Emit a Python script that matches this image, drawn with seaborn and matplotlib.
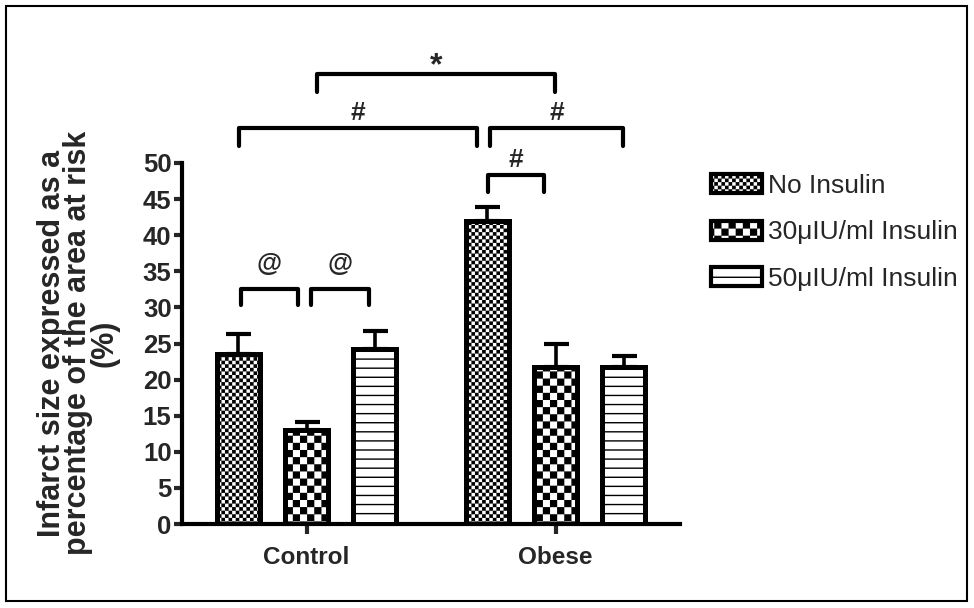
import numpy as np
import pandas as pd
import matplotlib
matplotlib.use("Agg")
import matplotlib.pyplot as plt
import matplotlib.patches as mpatches
from matplotlib import hatch as mhatch
from matplotlib.path import Path
import seaborn as sns

# ---------------- data ----------------
groups = ["Control", "Obese"]
treatments = ["No Insulin", "30\u03bcIU/ml Insulin", "50\u03bcIU/ml Insulin"]
control_mean = [23.6, 13.0, 24.2]
control_sem = [2.7, 1.1, 2.6]
obese_mean = [41.9, 21.8, 21.8]
obese_sem = [2.0, 3.1, 1.4]
y_ticks = [0, 5, 10, 15, 20, 25, 30, 35, 40, 45, 50]
y_label = "Infarct size expressed as a\npercentage of the area at risk\n(%)"

# significance brackets: (x_left, x_right, y_top, y_leg_end, symbol)
brackets = [
    (-0.265, -0.036, 32.5, 30.4, "@"),
    (0.020, 0.249, 32.5, 30.4, "@"),
    (0.727, 0.952, 48.4, 46.0, "#"),
    (-0.273, 0.683, 54.8, 52.3, "#"),
    (0.735, 1.273, 54.8, 52.3, "#"),
    (0.044, 0.996, 62.3, 59.9, "*"),
]
symbol_offset = {"@": 2.6, "#": 1.1, "*": 0.0}
symbol_size = {"@": 18.5, "#": 19, "*": 23}

# ---------------- custom hatch patterns ----------------
class CustomHatch(mhatch.HatchPatternBase):
    def __init__(self, hatch, density):
        self.n_check = 0
        self.n_lines = 0
        if "c" in hatch:
            self.n_check = 28
        elif "C" in hatch:
            self.n_check = 14
        if "h" in hatch:
            self.n_lines = 11
        self.squares = []
        if self.n_check:
            n = self.n_check
            for i in range(n):
                for j in range(n):
                    if (i + j) % 2 == 0:
                        self.squares.append((i, j))
        self.num_vertices = len(self.squares) * 5 + self.n_lines * 2

    def set_vertices_and_codes(self, vertices, codes):
        k = 0
        if self.n_check:
            n = self.n_check
            s = 1.0 / n
            sh = 0.0065
            for (i, j) in self.squares:
                x0, y0 = i * s + sh, j * s + sh
                x1, y1 = (i + 1) * s - sh, (j + 1) * s - sh
                vertices[k:k + 5] = [(x0, y0), (x1, y0), (x1, y1), (x0, y1), (x0, y0)]
                codes[k] = Path.MOVETO
                codes[k + 1:k + 4] = Path.LINETO
                codes[k + 4] = Path.CLOSEPOLY
                k += 5
        if self.n_lines:
            steps = (np.arange(self.n_lines) + 0.5) / self.n_lines
            for y in steps:
                vertices[k] = (0.0, y)
                vertices[k + 1] = (1.0, y)
                codes[k] = Path.MOVETO
                codes[k + 1] = Path.LINETO
                k += 2

mhatch._hatch_types.append(CustomHatch)
mhatch._validate_hatch_pattern = lambda h: None
hatches = ["c", "C", "h"]

# ---------------- style ----------------
sns.set_style("white")
plt.rcParams["font.family"] = ["Liberation Sans", "DejaVu Sans"]
plt.rcParams["hatch.linewidth"] = 1.0
plt.rcParams["hatch.color"] = "black"

df = pd.DataFrame({
    "group": [g for g in groups for _ in treatments],
    "treatment": treatments * len(groups),
    "value": control_mean + obese_mean,
    "sem": control_sem + obese_sem,
})

fig = plt.figure(figsize=(9.74, 6.08), dpi=100)
ax = fig.add_axes([182 / 974, 1 - 524 / 608, (680 - 182) / 974, (524 - 163) / 608])

sns.barplot(data=df, x="group", y="value", hue="treatment", order=groups,
            hue_order=treatments, palette=["white"] * 3, edgecolor="black",
            linewidth=3.6, width=0.82, gap=0.37, errorbar=None, legend=False,
            ax=ax, zorder=3)

for cont, h in zip(ax.containers, hatches):
    for p in cont.patches:
        p.set_hatch(h)
        p.set_edgecolor("black")

# error bars (upper only) from the bar positions
for cont, t in zip(ax.containers, treatments):
    sub = df[df["treatment"] == t].set_index("group").loc[groups]
    xs = [p.get_x() + p.get_width() / 2 for p in cont.patches]
    ax.errorbar(xs, sub["value"].values,
                yerr=[np.zeros(len(xs)), sub["sem"].values],
                fmt="none", ecolor="black", elinewidth=2.6, capsize=9,
                capthick=3, zorder=2)

ax.set_xlim(-0.5, 1.5)
ax.set_ylim(0, 50)
ax.set_yticks(y_ticks)
ax.set_yticklabels([str(v) for v in y_ticks], fontsize=18.5, fontweight="bold")
ax.set_xticks(range(len(groups)))
ax.set_xticklabels(groups, fontsize=17.5, fontweight="bold")
ax.set_xlabel("")
ax.set_ylabel("")
for s in ["top", "right"]:
    ax.spines[s].set_visible(False)
for s in ["left", "bottom"]:
    ax.spines[s].set_linewidth(3)
    ax.spines[s].set_color("black")
ax.tick_params(axis="y", direction="out", length=6, width=3, pad=1.5, left=True)
ax.tick_params(axis="x", direction="out", length=7, width=3, pad=9, bottom=True)

# brackets
for xl, xr, yt, yb, sym in brackets:
    ax.plot([xl, xl, xr, xr], [yb, yt, yt, yb], color="black", lw=3,
            solid_capstyle="round", solid_joinstyle="round", clip_on=False)
    ax.text((xl + xr) / 2, yt + symbol_offset[sym], sym, ha="center",
            va="baseline", fontsize=symbol_size[sym], fontweight="bold",
            clip_on=False)

# y label
fig.text(78 / 974, 1 - 343 / 608, y_label, rotation=90, ha="center",
         va="center", multialignment="center", fontsize=22,
         fontweight="bold", linespacing=0.84)

# legend
handles = [mpatches.Patch(facecolor="white", edgecolor="black", hatch=h,
                          linewidth=3, label=t)
           for h, t in zip(hatches, treatments)]
fig.legend(handles=handles, loc="upper left",
           bbox_to_anchor=(711 / 974, 1 - 174 / 608), frameon=False,
           fontsize=19, handlelength=1.95, handleheight=0.75,
           handletextpad=0.2, labelspacing=0.85, borderpad=0,
           borderaxespad=0)

# figure frame
fig.patches.append(mpatches.Rectangle((6 / 974, 1 - 601 / 608),
                                      (967 - 6) / 974, (601 - 6) / 608,
                                      transform=fig.transFigure, fill=False,
                                      edgecolor="black", linewidth=1.5))

fig.savefig("out.png", dpi=100)
